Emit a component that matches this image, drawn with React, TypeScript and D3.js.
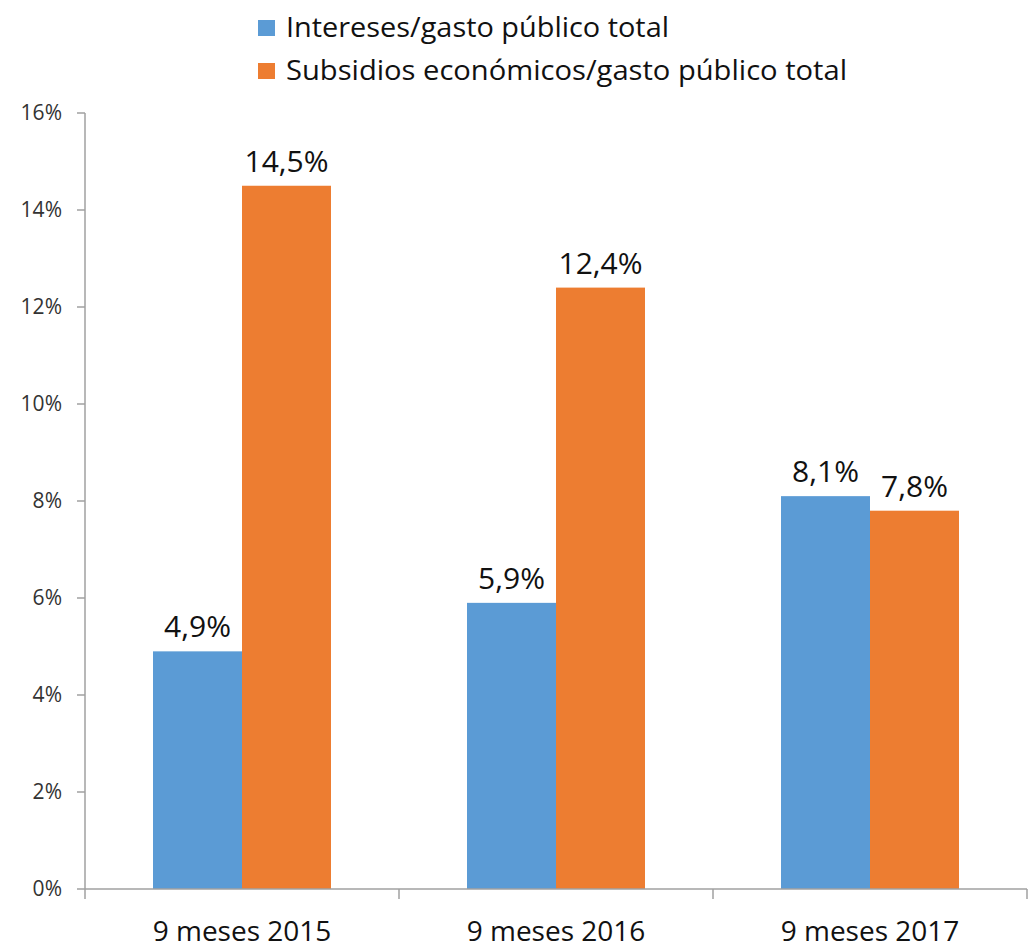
import React from "react";
import * as d3 from "d3";

const categories = ["9 meses 2015", "9 meses 2016", "9 meses 2017"];
const seriesNames = ["Intereses/gasto público total", "Subsidios económicos/gasto público total"];
const intereses = [4.9, 5.9, 8.1];
const subsidios = [14.5, 12.4, 7.8];
const yTicks = [0, 2, 4, 6, 8, 10, 12, 14, 16];
const colors = ["#5B9BD5", "#ED7D31"];

const W = 1028, H = 951;
const left = 85, right = 1027, top = 113, bottom = 889;
const font = "'Open Sans', 'Noto Sans', sans-serif";

export default function App() {
  const x = d3.scaleBand<string>().domain(categories).range([left, right]).paddingInner(0).paddingOuter(0);
  const y = d3.scaleLinear().domain([0, 16]).range([bottom, top]);
  const barW = 89;
  const series = [intereses, subsidios];
  const fmt = (v: number) => v.toFixed(1).replace(".", ",") + "%";
  const boundaries = [...categories.map((c) => x(c)!), right];

  return (
    <svg width={W} height={H} style={{ position: "absolute", left: 0, top: 0, background: "#fff" }} fontFamily={font}>
      <rect x={0} y={0} width={W} height={H} fill="#fff" />
      {/* legend */}
      {seriesNames.map((n, i) => (
        <g key={n}>
          <rect x={258} y={20 + i * 43} width={17} height={16} fill={colors[i]} />
          <text x={286} y={37 + i * 43} fontSize={27} textLength={i === 0 ? 383 : 561} lengthAdjust="spacingAndGlyphs" fill="#111">{n}</text>
        </g>
      ))}
      {/* y axis */}
      <line x1={left} x2={left} y1={top} y2={bottom} stroke="#a0a0a0" strokeWidth={1.5} />
      {yTicks.map((t) => (
        <g key={t}>
          <line x1={left - 8} x2={left} y1={y(t)} y2={y(t)} stroke="#a0a0a0" strokeWidth={1.5} />
          <text x={62} y={y(t)} dy="0.35em" textAnchor="end" fontSize={21} fill="#333">{t}%</text>
        </g>
      ))}
      {/* bars */}
      {categories.map((c, ci) => {
        const cx = x(c)! + x.bandwidth() / 2;
        return series.map((s, si) => {
          const bx = cx - barW + si * barW;
          return (
            <g key={c + si}>
              <rect x={bx} y={y(s[ci])} width={barW} height={bottom - y(s[ci])} fill={colors[si]} />
              <text x={bx + barW / 2} y={y(s[ci]) - 14} textAnchor="middle" fontSize={30} fill="#111">{fmt(s[ci])}</text>
            </g>
          );
        });
      })}
      {/* x axis */}
      <line x1={left} x2={right} y1={bottom} y2={bottom} stroke="#a0a0a0" strokeWidth={1.5} />
      {boundaries.map((b, i) => (
        <line key={i} x1={b} x2={b} y1={bottom} y2={bottom + 10} stroke="#a0a0a0" strokeWidth={1.5} />
      ))}
      {categories.map((c) => (
        <text key={c} x={x(c)! + x.bandwidth() / 2} y={941} textAnchor="middle" fontSize={28} fill="#111">{c}</text>
      ))}
    </svg>
  );
}
